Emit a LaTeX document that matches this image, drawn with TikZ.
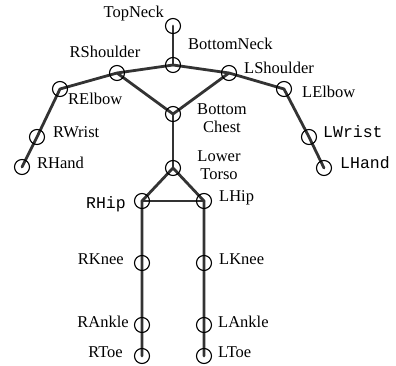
\documentclass[tikz,border=0pt]{standalone}
\usepackage{fontspec}
\setmainfont{Liberation Serif}
\setmonofont{Liberation Mono}
\begin{document}
\begin{tikzpicture}[x=1pt,y=-1pt,
  joint/.style={circle,draw=black,line width=1.1pt,minimum size=15pt,inner sep=0pt},
  bone/.style={line width=2.8pt,draw=black!80,line cap=round},
  lbl/.style={font=\fontsize{16.5}{18}\selectfont,inner sep=0pt},
  tlbl/.style={font=\fontsize{16.5}{18}\selectfont\ttfamily,inner sep=0pt}]
\useasboundingbox (0,0) rectangle (396,366);
% joint positions
\coordinate (TopNeck) at (173,26);
\coordinate (BottomNeck) at (173,65);
\coordinate (RShoulder) at (117,73);
\coordinate (LShoulder) at (229,73);
\coordinate (RElbow) at (60,89);
\coordinate (LElbow) at (284,89);
\coordinate (BottomChest) at (173,114);
\coordinate (RWrist) at (37,137);
\coordinate (LWrist) at (309,137);
\coordinate (RHand) at (22,167);
\coordinate (LHand) at (324,168);
\coordinate (LowerTorso) at (173,168);
\coordinate (RHip) at (142,201);
\coordinate (LHip) at (204,201);
\coordinate (RKnee) at (142,263);
\coordinate (LKnee) at (204,263);
\coordinate (RAnkle) at (142,325);
\coordinate (LAnkle) at (204,325);
\coordinate (RToe) at (142,356);
\coordinate (LToe) at (204,356);
% skeleton
\draw[bone] (TopNeck) -- (BottomNeck);
\draw[bone,line join=round] (RHand) -- (RWrist) -- (RElbow) -- (RShoulder) -- (BottomNeck) -- (LShoulder) -- (LElbow) -- (LWrist) -- (LHand);
\draw[bone,line join=round] (RShoulder) -- (BottomChest) -- (LShoulder);
\draw[bone] (BottomChest) -- (LowerTorso);
\draw[bone,line join=round] (RToe) -- (RAnkle) -- (RKnee) -- (RHip) -- (LowerTorso) -- (LHip) -- (LKnee) -- (LAnkle) -- (LToe);
\draw[bone] (RHip) -- (LHip);
% joint markers
\foreach \j in {TopNeck,BottomNeck,RShoulder,LShoulder,RElbow,LElbow,BottomChest,RWrist,LWrist,RHand,LHand,LowerTorso,RHip,LHip,RKnee,LKnee,RAnkle,LAnkle,RToe,LToe}
  \node[joint] (\j-c) at (\j) {};
% labels
\node[lbl,anchor=mid east] (tTopNeck) at (164,15) {TopNeck};
\node[lbl,anchor=mid west] (tBottomNeck) at (188,47) {BottomNeck};
\node[lbl,anchor=mid] (tRShoulder) at (105,55) {RShoulder};
\node[lbl,anchor=mid west] (tLShoulder) at (244,71) {LShoulder};
\node[lbl,anchor=mid west] (tRElbow) at (68,102) {RElbow};
\node[lbl,anchor=mid west] (tLElbow) at (302,95) {LElbow};
\node[lbl,align=center] (tBottomChest) at (222,118) {Bottom\\Chest};
\node[lbl,anchor=mid west] (tRWrist) at (53,135) {RWrist};
\node[tlbl,anchor=mid west] (tLWrist) at (323,135) {LWrist};
\node[lbl,anchor=mid west] (tRHand) at (37,166) {RHand};
\node[tlbl,anchor=mid west] (tLHand) at (340,166) {LHand};
\node[lbl,align=center] (tLowerTorso) at (219,165) {Lower\\Torso};
\node[tlbl,anchor=mid east] (tRHip) at (126,206) {RHip};
\node[lbl,anchor=mid west] (tLHip) at (219,199) {LHip};
\node[lbl,anchor=mid east] (tRKnee) at (124,262) {RKnee};
\node[lbl,anchor=mid west] (tLKnee) at (219,262) {LKnee};
\node[lbl,anchor=mid east] (tRAnkle) at (129,325) {RAnkle};
\node[lbl,anchor=mid west] (tLAnkle) at (218,325) {LAnkle};
\node[lbl,anchor=mid east] (tRToe) at (123,355) {RToe};
\node[lbl,anchor=mid west] (tLToe) at (218,355) {LToe};
\end{tikzpicture}
\end{document}
